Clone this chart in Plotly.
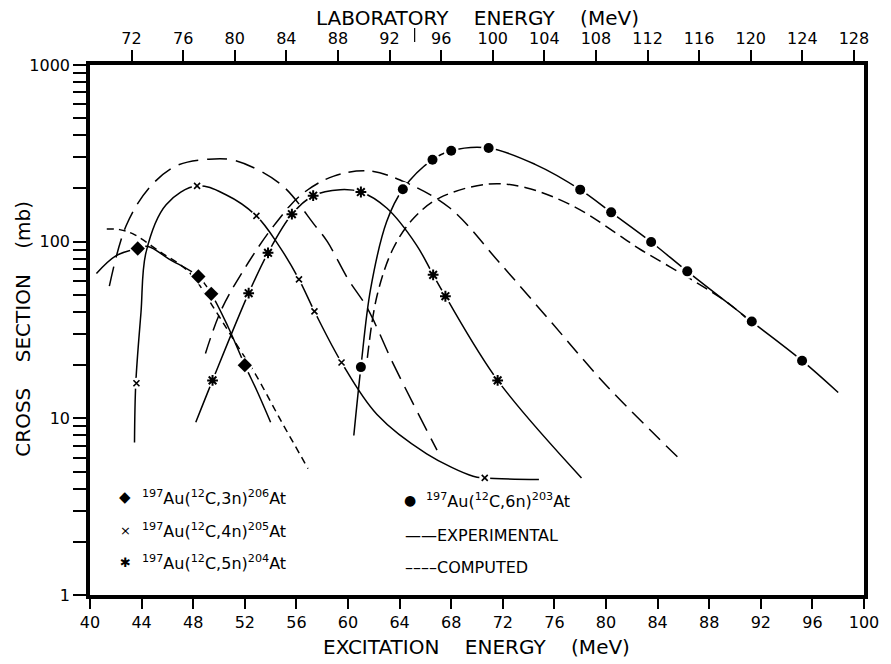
import plotly.graph_objects as go

FONT = "DejaVu Sans"

# ---------------- measured points (excitation energy MeV, cross section mb)
ex_3n = [43.7, 48.4, 49.4, 52.0]
cs_3n = [91.5, 63.5, 50.7, 20.0]
ex_4n = [43.6, 48.3, 52.9, 56.2, 57.4, 59.5, 70.6]
cs_4n = [15.8, 207, 140, 61.2, 40.3, 20.7, 4.6]
ex_5n = [49.5, 52.3, 53.8, 55.65, 57.3, 61.0, 66.6, 67.55, 71.6]
cs_5n = [16.4, 51.1, 86.5, 143, 182, 191, 64.9, 49.1, 16.4]
ex_6n = [61.0, 64.25, 66.55, 68.0, 70.9, 78.0, 80.4, 83.5, 86.3, 91.3, 95.2]
cs_6n = [19.5, 198, 291, 327, 339, 197, 146.5, 99.6, 67.9, 35.3, 21.2]

# ---------------- experimental curves (solid)
exp3_x = [40.5, 42.0, 43.7, 44.5, 46.1, 48.4, 49.4, 50.7, 52.0, 53.0, 54.0]
exp3_y = [66, 83, 91.5, 94, 80, 63.5, 50.7, 33, 20, 14, 9.5]
exp4_x = [43.45, 43.55, 43.95, 44.35, 45.9, 48.3, 50.5, 52.9, 54.6, 56.2, 57.4, 59.5, 62.25, 66.1, 69.7, 70.6, 74.8]
exp4_y = [7.3, 15.8, 39.6, 87.6, 162, 207, 185, 140, 96, 61.2, 40.3, 20.7, 10.5, 6.3, 4.7, 4.6, 4.5]
exp5_x = [48.2, 49.5, 52.3, 53.8, 55.65, 57.3, 59.4, 61.0, 63.0, 65.3, 66.6, 67.55, 71.6, 78.1]
exp5_y = [9.5, 16.4, 51.1, 86.5, 143, 182, 197, 191, 155, 96, 64.9, 49.1, 16.4, 4.6]
exp6_x = [60.45, 61.0, 61.75, 63.0, 64.25, 66.55, 68.0, 70.9, 74.5, 78.0, 80.4, 83.5, 86.3, 91.3, 95.2, 98.0]
exp6_y = [8.0, 19.5, 53.9, 130, 198, 291, 327, 339, 274, 197, 146.5, 99.6, 67.9, 35.3, 21.2, 14.0]

# ---------------- computed curves (dashed)
cmp3_x = [41.3, 42.3, 43.3, 45.4, 47.7, 49.7, 51.3, 52.8, 54.8, 56.9]
cmp3_y = [118, 117, 111, 88, 67, 41, 26.6, 17.9, 9.7, 5.2]
cmp4_x = [41.5, 42.8, 44.6, 46.65, 49.2, 51.3, 54.8, 57.4, 58.4, 60.0, 61.5, 63.5, 65.6, 66.9]
cmp4_y = [56, 123, 202, 268, 293, 287, 211, 124.5, 100, 61.5, 42, 20.4, 10.1, 6.6]
cmp5_x = [48.95, 50.2, 52.3, 54.3, 56.4, 58.9, 61.7, 64.55, 67.9, 71.7, 75.8, 79.9, 83.7, 85.7]
cmp5_y = [23.3, 41.4, 76.7, 124.5, 185, 235, 251, 215, 155, 76.7, 34.7, 15.7, 8.2, 5.9]
cmp6_x = [61.5, 62.25, 63.5, 65.1, 67.1, 70.9, 73.8, 77.6, 81.4, 82.7, 86.55, 89.6, 91.3]
cmp6_y = [22, 49.4, 91.5, 136, 177, 212, 202, 157, 104, 90, 61.5, 44.2, 34.5]

# ---------------- axes
ex_ticks = list(range(40, 101, 4))
lab_ticks = list(range(72, 129, 4))
LAB_OFFSET = 28.78          # lab energy - excitation energy
y_ticks = [1, 10, 100, 1000]

fig = go.Figure()

def curve(x, y, dash=None):
    fig.add_trace(go.Scatter(x=x, y=y, mode="lines", line_shape="spline",
                             line=dict(color="black", width=1.5, dash=dash, smoothing=1.0),
                             hoverinfo="skip", showlegend=False))

curve(exp3_x, exp3_y)
curve(exp4_x, exp4_y)
curve(exp5_x, exp5_y)
curve(exp6_x, exp6_y)
curve(cmp3_x, cmp3_y, "7px,5px")
curve(cmp4_x, cmp4_y, "20px,9px")
curve(cmp5_x, cmp5_y, "16px,8px")
curve(cmp6_x, cmp6_y, "12px,6px")

def points(x, y, symbol, size, lw=0):
    # white halo leaves a small gap in the line round each point
    fig.add_trace(go.Scatter(x=x, y=y, mode="markers",
                             marker=dict(symbol="circle", size=size + 5, color="white"),
                             hoverinfo="skip", showlegend=False))
    fig.add_trace(go.Scatter(x=x, y=y, mode="markers",
                             marker=dict(symbol=symbol, size=size, color="black",
                                         line=dict(color="black", width=lw)),
                             showlegend=False))

points(ex_3n, cs_3n, "diamond", 11)
points(ex_4n, cs_4n, "x-thin", 6, 1.6)
points(ex_5n, cs_5n, "asterisk", 9, 2)
points(ex_6n, cs_6n, "circle", 10)

# helper trace so the top (laboratory energy) axis is drawn
fig.add_trace(go.Scatter(x=lab_ticks, y=[1] * len(lab_ticks), xaxis="x2", yaxis="y",
                         mode="markers", marker=dict(opacity=0, size=1),
                         hoverinfo="skip", showlegend=False))

L, R, T, B = 90, 19, 65, 69
W, H = 891, 664
pw, ph = W - L - R, H - T - B

def px(xp):
    return (xp - L) / pw

def py(yp):
    return (H - B - yp) / ph

tickfont = dict(family=FONT, size=16, color="black")

fig.update_layout(
    width=W, height=H,
    margin=dict(l=L, r=R, t=T, b=B, pad=0),
    paper_bgcolor="white", plot_bgcolor="white",
    showlegend=False,
    xaxis=dict(range=[40, 100], tickvals=ex_ticks, ticks="outside", ticklen=10,
               tickwidth=2, tickcolor="black", showline=True, linewidth=3.5,
               linecolor="black", showgrid=False, zeroline=False, tickfont=tickfont),
    xaxis2=dict(range=[40 + LAB_OFFSET, 100 + LAB_OFFSET], overlaying="x", side="top",
                anchor="y", tickvals=lab_ticks, ticks="outside", ticklen=11, tickwidth=2,
                tickcolor="black", showline=True, linewidth=3.5, linecolor="black",
                showgrid=False, zeroline=False, tickfont=tickfont),
    yaxis=dict(type="log", range=[0, 3], tickvals=y_ticks,
               ticktext=[str(v) for v in y_ticks], ticks="outside", ticklen=13,
               tickwidth=2, tickcolor="black", showline=True, mirror=True,
               linewidth=3.5, linecolor="black", showgrid=False, zeroline=False,
               tickfont=tickfont,
               minor=dict(ticks="outside", ticklen=13, tickwidth=2, tickcolor="black",
                          dtick="D1", showgrid=False)),
)

NB = "\u00a0"
gap = NB * 4

ann = []
def text(x, y, s, size=16, xanchor="left", angle=0):
    ann.append(dict(x=x, y=y, xref="paper", yref="paper", text=s, showarrow=False,
                    xanchor=xanchor, yanchor="middle", textangle=angle,
                    font=dict(family=FONT, size=size, color="black")))

text(px(480), py(647), "EXCITATION" + gap + "ENERGY" + gap + "(MeV)", 20, "center")
text(px(481), py(18), "LABORATORY" + gap + "ENERGY" + gap + "(MeV)", 20, "center")
text(px(22), py(329), "CROSS" + gap + "SECTION" + gap + "(mb)", 20, "center", -90)

reac = "<sup>197</sup>Au(<sup>12</sup>C,{}n)<sup>{}</sup>At"
text(px(125), py(497), "\u25c6", 15, "center")
text(px(141), py(497), reac.format(3, 206))
text(px(126), py(530), "\u00d7", 13, "center")
text(px(141), py(530), reac.format(4, 205))
text(px(126), py(562), "\u2731", 13, "center")
text(px(141), py(562), reac.format(5, 204))
text(px(413), py(500), "\u25cf", 14, "center")
text(px(427), py(500), reac.format(6, 203))
text(px(406), py(535), "\u2014\u2014EXPERIMENTAL")
text(px(406), py(567), "\u2013\u2013\u2013\u2013COMPUTED")

fig.update_layout(annotations=ann)

# small pointer stroke under the top title, as drawn in the original
fig.add_shape(type="line", xref="paper", yref="paper", x0=px(418), x1=px(418),
              y0=py(28), y1=py(42), line=dict(color="black", width=1.2))

fig.write_html("out.html")
